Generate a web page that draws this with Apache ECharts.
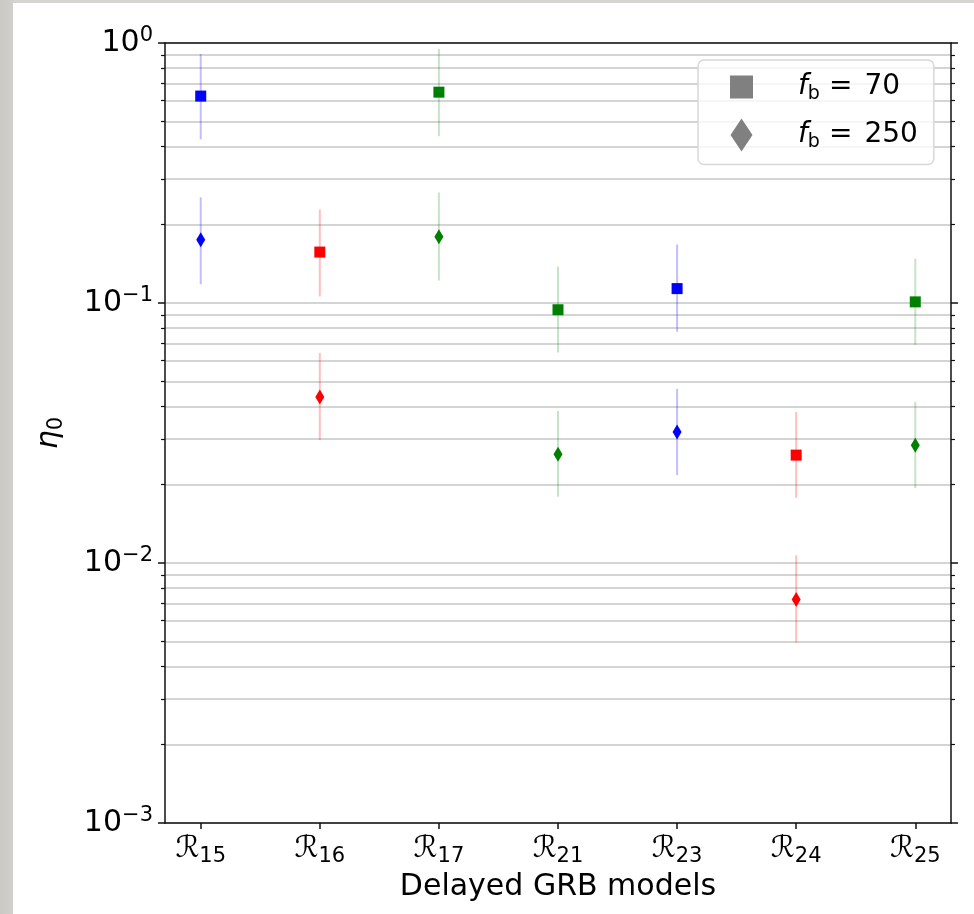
<!DOCTYPE html>
<html><head><meta charset="utf-8">
<script src="https://cdn.jsdelivr.net/npm/echarts@6/dist/echarts.min.js"></script>
<style>
html,body{margin:0;padding:0;}
body{width:974px;height:914px;overflow:hidden;background:
 linear-gradient(to right,#cbc9c6 0,#d2d0cd 13px,transparent 13px),
 linear-gradient(to bottom,#d6d4d1 0,#d6d4d1 3px,#ffffff 3px);}
#chart{width:974px;height:914px;}
</style></head><body><div id="chart"></div>
<script>
// Model labels (subscripts of calligraphic R)
const categories = ['15', '16', '17', '21', '23', '24', '25'];
const pointColors = ['#0000ff', '#ff0000', '#008000', '#008000', '#0000ff', '#ff0000', '#008000'];
const barColors = ['rgba(0,0,255,0.25)', 'rgba(255,0,0,0.25)', 'rgba(0,128,0,0.22)', 'rgba(0,128,0,0.22)', 'rgba(0,0,255,0.25)', 'rgba(255,0,0,0.25)', 'rgba(0,128,0,0.22)'];
// f_b = 70 (squares)
const eta70   = [0.625, 0.157, 0.647, 0.0942, 0.1136, 0.0260, 0.101];
const eta70Lo = [0.426, 0.106, 0.438, 0.0645, 0.0775, 0.0178, 0.069];
const eta70Hi = [0.907, 0.229, 0.948, 0.138, 0.168, 0.0381, 0.148];
// f_b = 250 (diamonds)
const eta250   = [0.175, 0.0435, 0.1797, 0.0262, 0.0319, 0.00724, 0.0284];
const eta250Lo = [0.118, 0.0297, 0.122, 0.0180, 0.0218, 0.00494, 0.0194];
const eta250Hi = [0.255, 0.0643, 0.266, 0.0384, 0.0467, 0.0107, 0.0416];
const yMin = 0.001, yMax = 1;

const FONT = 'DejaVu Sans';
const AX = '#111111';
const GRID = '#c6c6c6';

function pts(vals) {
  return vals.map((v, i) => ({ value: [i, v], itemStyle: { color: pointColors[i], opacity: 1 } }));
}
function bars(lo, hi) {
  return lo.map((l, i) => ({ value: [i, l, hi[i]] }));
}
function errRender(params, api) {
  const i = api.value(0);
  const p1 = api.coord([i, api.value(1)]);
  const p2 = api.coord([i, api.value(2)]);
  return { type: 'line', shape: { x1: p1[0], y1: p1[1], x2: p2[0], y2: p2[1] },
    style: { stroke: barColors[params.dataIndex], lineWidth: 2 } };
}
function expLabel(v) {
  const e = Math.round(Math.log10(v));
  return '{b|10}{p|' + (e < 0 ? '\u2212' + (-e) : String(e)) + '}';
}
const yRich = {
  b: { fontFamily: FONT, fontSize: 30, color: '#000', lineHeight: 36 },
  p: { fontFamily: FONT, fontSize: 21, color: '#000', lineHeight: 21, verticalAlign: 'top' }
};
const xIdx = categories.map((c, i) => i);

const chart = echarts.init(document.getElementById('chart'));
chart.setOption({
  animation: false,
  backgroundColor: 'transparent',
  textStyle: { fontFamily: FONT },
  grid: { left: 165, top: 43, right: 23, bottom: 91 },
  legend: {
    left: 698, top: 60, orient: 'vertical',
    padding: [13, 16, 13, 32], itemGap: 15,
    itemWidth: 23, itemHeight: 33, symbolKeepAspect: true,
    backgroundColor: 'rgba(255,255,255,0.8)', borderColor: '#d8d8d8', borderWidth: 1.5, borderRadius: 6,
    data: [
      { name: 'f70', icon: 'path://M0,0L1,0L1,1L0,1Z', itemStyle: { color: '#808080', opacity: 1 } },
      { name: 'f250', icon: 'path://M0,0L2,3L0,6L-2,3Z', itemStyle: { color: '#808080', opacity: 1 } }
    ],
    formatter: n => '{f|f}{s|b}{q|=}{t|' + n.slice(1) + '}',
    textStyle: {
      rich: {
        f: { fontFamily: FONT, fontStyle: 'italic', fontSize: 28, color: '#000', padding: [0, 0, 0, 40], lineHeight: 33 },
        s: { fontFamily: FONT, fontSize: 19, color: '#000', verticalAlign: 'bottom', lineHeight: 19 },
        q: { fontFamily: FONT, fontSize: 28, color: '#000', lineHeight: 33, padding: [0, 12, 0, 9] },
        t: { fontFamily: FONT, fontSize: 28, color: '#000', lineHeight: 33 }
      }
    }
  },
  xAxis: [{
    type: 'value', min: -0.3, max: 6.3, position: 'bottom',
    name: 'Delayed GRB models', nameLocation: 'middle', nameGap: 46,
    nameTextStyle: { fontFamily: FONT, fontSize: 30, color: '#000' },
    axisLine: { show: true, onZero: false, lineStyle: { color: AX, width: 1.5 } },
    axisTick: { show: true, length: 6, customValues: xIdx, lineStyle: { color: AX, width: 1.5 } },
    axisLabel: {
      customValues: xIdx, margin: 8,
      formatter: v => '{r|\u211B}{s|' + categories[Math.round(v)] + '}',
      rich: {
        r: { fontFamily: FONT, fontSize: 30, color: '#000', lineHeight: 36 },
        s: { fontFamily: FONT, fontSize: 21, color: '#000', lineHeight: 21, verticalAlign: 'bottom' }
      }
    },
    splitLine: { show: false }
  }, {
    type: 'value', min: -0.3, max: 6.3, position: 'top',
    axisLine: { show: true, onZero: false, lineStyle: { color: AX, width: 1.5 } },
    axisTick: { show: false }, axisLabel: { show: false }, splitLine: { show: false }
  }],
  yAxis: [{
    type: 'log', logBase: 10, min: yMin, max: yMax, position: 'left',
    name: '{e|\u03B7}{s|0}', nameLocation: 'middle', nameGap: 98, nameRotate: 90,
    nameTextStyle: { rich: {
      e: { fontFamily: FONT, fontStyle: 'italic', fontSize: 30, color: '#000', lineHeight: 36 },
      s: { fontFamily: FONT, fontSize: 21, color: '#000', lineHeight: 21, verticalAlign: 'bottom' }
    } },
    axisLine: { show: true, onZero: false, lineStyle: { color: AX, width: 1.5 } },
    axisTick: { show: true, length: 7, lineStyle: { color: AX, width: 1.5 } },
    minorTick: { show: true, splitNumber: 9, length: 4, lineStyle: { color: AX, width: 1.2 } },
    axisLabel: { margin: 12, formatter: expLabel, rich: yRich },
    splitLine: { show: true, lineStyle: { color: GRID, width: 1.5 } },
    minorSplitLine: { show: true, lineStyle: { color: GRID, width: 1.5 } }
  }, {
    type: 'log', logBase: 10, min: yMin, max: yMax, position: 'right',
    axisLine: { show: true, onZero: false, lineStyle: { color: AX, width: 1.5 } },
    axisTick: { show: true, length: 7, lineStyle: { color: AX, width: 1.5 } },
    minorTick: { show: true, splitNumber: 9, length: 4, lineStyle: { color: AX, width: 1.2 } },
    axisLabel: { show: false }, splitLine: { show: false }
  }],
  series: [
    { type: 'custom', name: 'err70', renderItem: errRender, data: bars(eta70Lo, eta70Hi),
      encode: { x: 0, y: [1, 2] }, z: 2, silent: true },
    { type: 'custom', name: 'err250', renderItem: errRender, data: bars(eta250Lo, eta250Hi),
      encode: { x: 0, y: [1, 2] }, z: 2, silent: true },
    { type: 'scatter', name: 'f70', symbol: 'rect', symbolSize: 11, data: pts(eta70), z: 3 },
    { type: 'scatter', name: 'f250', symbol: 'diamond', symbolSize: [9, 15], data: pts(eta250), z: 3 }
  ]
});
</script></body></html>
